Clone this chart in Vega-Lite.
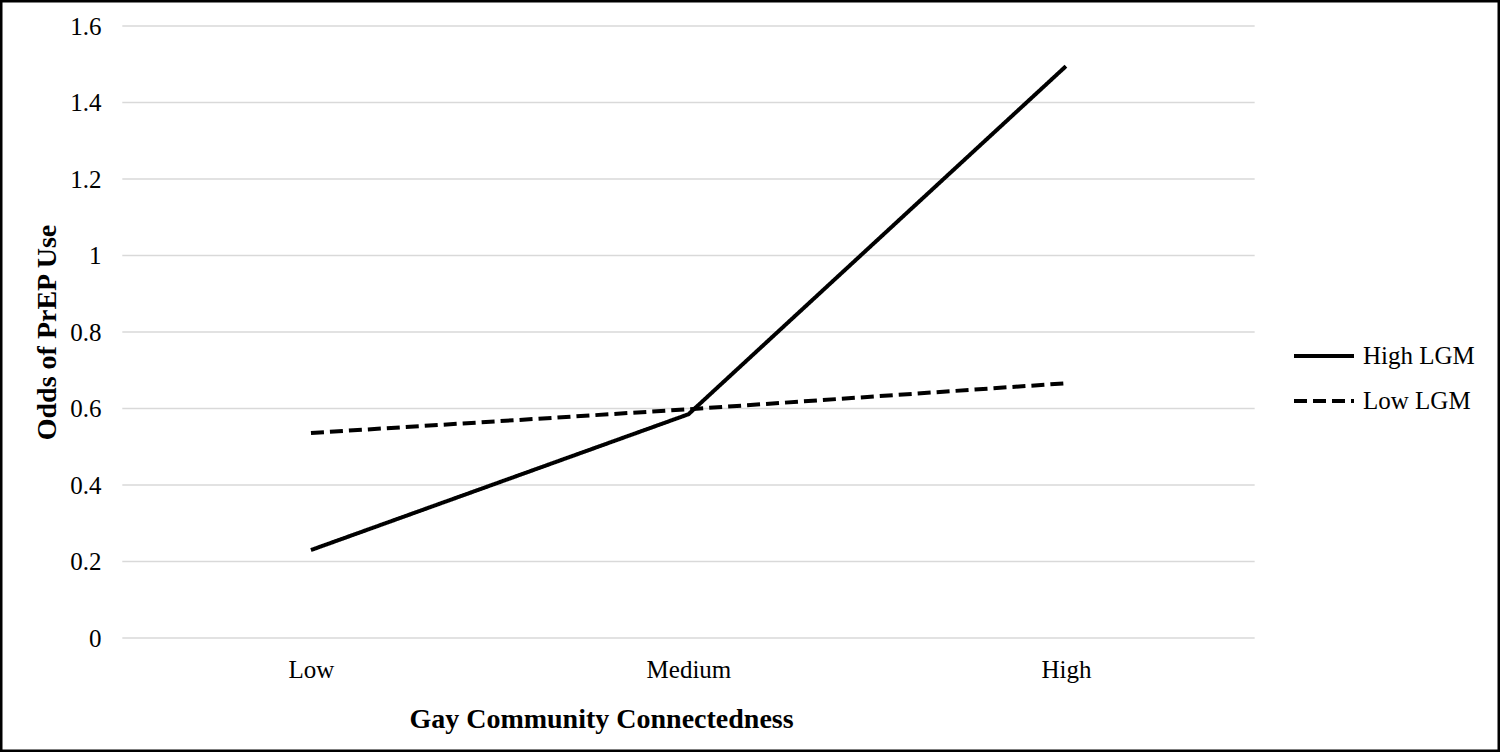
{
  "$schema": "https://vega.github.io/schema/vega-lite/v6.json",
  "width": 1500,
  "height": 752,
  "autosize": "none",
  "padding": 0,
  "background": "white",
  "config": {
    "view": {"stroke": "black", "strokeWidth": 5},
    "font": "Liberation Serif",
    "axisY": {
      "offset": -123,
      "domain": false,
      "ticks": false,
      "grid": false,
      "labelPadding": 22,
      "labelFontSize": 25,
      "labelColor": "black",
      "titleFontSize": 28,
      "titleFontWeight": "bold",
      "titleColor": "black",
      "titlePadding": 8,
      "titleY": 332
    }
  },
  "datasets": {
    "odds": [
      {"connectedness": "Low", "group": "High LGM", "odds": 0.23},
      {"connectedness": "Medium", "group": "High LGM", "odds": 0.585},
      {"connectedness": "High", "group": "High LGM", "odds": 1.495},
      {"connectedness": "Low", "group": "Low LGM", "odds": 0.536},
      {"connectedness": "Medium", "group": "Low LGM", "odds": 0.598},
      {"connectedness": "High", "group": "Low LGM", "odds": 0.666}
    ],
    "ticks": [
      {"v": 0}, {"v": 0.2}, {"v": 0.4}, {"v": 0.6}, {"v": 0.8},
      {"v": 1}, {"v": 1.2}, {"v": 1.4}, {"v": 1.6}
    ]
  },
  "layer": [
    {
      "data": {"name": "ticks"},
      "mark": {"type": "rule", "color": "#d9d9d9", "strokeWidth": 1.5},
      "encoding": {
        "x": {"datum": -0.5, "type": "quantitative", "scale": {"domain": [-0.824, 3.15], "nice": false, "zero": false}, "axis": null},
        "x2": {"datum": 2.5},
        "y": {
          "field": "v",
          "type": "quantitative",
          "scale": {"domain": [-0.298, 1.668], "nice": false, "zero": false},
          "axis": {"title": "Odds of PrEP Use", "values": [0, 0.2, 0.4, 0.6, 0.8, 1, 1.2, 1.4, 1.6], "format": "~g"}
        }
      }
    },
    {
      "data": {"name": "odds"},
      "mark": {"type": "line", "color": "black", "strokeWidth": 4},
      "encoding": {
        "x": {
          "field": "connectedness",
          "type": "ordinal",
          "sort": ["Low", "Medium", "High"],
          "scale": {"type": "point", "domain": ["Low", "Medium", "High"], "padding": 0.98675, "align": 0.4174, "round": false},
          "axis": {
            "title": "Gay Community Connectedness",
            "offset": -114,
            "domain": false,
            "ticks": false,
            "grid": false,
            "labelPadding": 19,
            "labelFontSize": 25,
            "labelColor": "black",
            "titleFontSize": 28,
            "titleFontWeight": "bold",
            "titleColor": "black",
            "titlePadding": 23,
            "titleX": 601,
            "titleAlign": "center",
            "labelAngle": 0
          }
        },
        "y": {
          "field": "odds",
          "type": "quantitative",
          "scale": {"domain": [-0.298, 1.668], "nice": false, "zero": false},
          "axis": {"title": "Odds of PrEP Use", "values": [0, 0.2, 0.4, 0.6, 0.8, 1, 1.2, 1.4, 1.6], "format": "~g"}
        },
        "strokeDash": {
          "field": "group",
          "type": "nominal",
          "scale": {"domain": ["High LGM", "Low LGM"], "range": [[1, 0], [13, 6]]},
          "legend": {
            "title": null,
            "orient": "none",
            "legendX": 1292,
            "legendY": 324,
            "padding": 0,
            "symbolType": "stroke",
            "symbolSize": 3600,
            "symbolStrokeWidth": 4,
            "symbolStrokeColor": "black",
            "labelFontSize": 25,
            "labelColor": "black",
            "labelOffset": 7,
            "rowPadding": -30
          }
        }
      }
    }
  ],
  "resolve": {"scale": {"x": "independent"}}
}
